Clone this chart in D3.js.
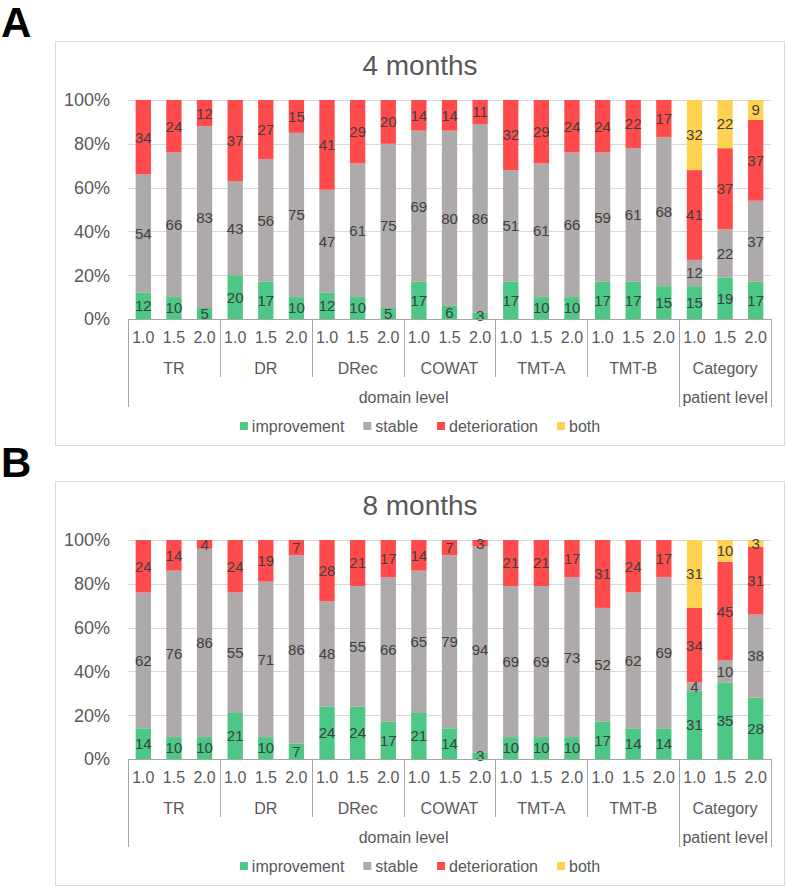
<!DOCTYPE html>
<html>
<head>
<meta charset="utf-8">
<script src="https://cdn.jsdelivr.net/npm/d3@7"></script>
<style>
  html, body { margin: 0; padding: 0; background: #fff; }
  svg { display: block; font-family: "Liberation Sans", Arial, sans-serif; }
</style>
</head>
<body>
<svg id="chart" width="787" height="888"></svg>
<script>
// ---------------- data ----------------
const groups = ["TR", "DR", "DRec", "COWAT", "TMT-A", "TMT-B", "Category"];
const thresholds = ["1.0", "1.5", "2.0"];
const levels = [
  { name: "domain level", from: 0, to: 6 },
  { name: "patient level", from: 6, to: 7 }
];
const seriesNames = ["improvement", "stable", "deterioration", "both"];
const seriesColors = ["#4cc784", "#aeaaaa", "#ff4b4b", "#ffd24f"];
const yTicks = [0, 20, 40, 60, 80, 100];

// 4 months
const improvement4   = [12, 10, 5, 20, 17, 10, 12, 10, 5, 17, 6, 3, 17, 10, 10, 17, 17, 15, 15, 19, 17];
const stable4        = [54, 66, 83, 43, 56, 75, 47, 61, 75, 69, 80, 86, 51, 61, 66, 59, 61, 68, 12, 22, 37];
const deterioration4 = [34, 24, 12, 37, 27, 15, 41, 29, 20, 14, 14, 11, 32, 29, 24, 24, 22, 17, 41, 37, 37];
const both4          = [0, 0, 0, 0, 0, 0, 0, 0, 0, 0, 0, 0, 0, 0, 0, 0, 0, 0, 32, 22, 9];

// 8 months
const improvement8   = [14, 10, 10, 21, 10, 7, 24, 24, 17, 21, 14, 3, 10, 10, 10, 17, 14, 14, 31, 35, 28];
const stable8        = [62, 76, 86, 55, 71, 86, 48, 55, 66, 65, 79, 94, 69, 69, 73, 52, 62, 69, 4, 10, 38];
const deterioration8 = [24, 14, 4, 24, 19, 7, 28, 21, 17, 14, 7, 3, 21, 21, 17, 31, 24, 17, 34, 45, 31];
const both8          = [0, 0, 0, 0, 0, 0, 0, 0, 0, 0, 0, 0, 0, 0, 0, 0, 0, 0, 31, 10, 3];

const panels = [
  { letter: "A", title: "4 months", series: [improvement4, stable4, deterioration4, both4] },
  { letter: "B", title: "8 months", series: [improvement8, stable8, deterioration8, both8] }
];

// ---------------- drawing ----------------
const svg = d3.select("#chart");
const textGray = "#595959";
const labelGray = "#404040";
const lineGray = "#a6a6a6";
const gridGray = "#d9d9d9";

const keys = [];
groups.forEach(g => thresholds.forEach(t => keys.push(g + "|" + t)));

const x = d3.scaleBand().domain(keys).range([128, 771]).paddingInner(0.5).paddingOuter(0.25);
const y = d3.scaleLinear().domain([0, 100]).range([319, 100]);
const step = x.step();
const edge = i => x(keys[i]) - step * 0.25; // left boundary of band i

panels.forEach((p, pi) => {
  const g = svg.append("g").attr("transform", `translate(0,${pi * 440})`);

  // letter
  g.append("text").attr("x", 1).attr("y", 37)
    .attr("font-size", 42).attr("font-weight", "bold").attr("fill", "#000")
    .text(p.letter);

  // frame
  g.append("rect").attr("x", 55.5).attr("y", 41.5).attr("width", 729).attr("height", 404)
    .attr("fill", "#fff").attr("stroke", gridGray).attr("stroke-width", 1);

  // title
  g.append("text").attr("x", 420).attr("y", 75).attr("text-anchor", "middle")
    .attr("font-size", 28).attr("fill", textGray).text(p.title);

  // gridlines
  g.append("g").selectAll("line").data(yTicks.filter(t => t > 0)).join("line")
    .attr("x1", 128).attr("x2", 771)
    .attr("y1", d => Math.round(y(d)) + 0.5).attr("y2", d => Math.round(y(d)) + 0.5)
    .attr("stroke", gridGray).attr("stroke-width", 1);

  // y axis labels
  g.append("g").selectAll("text").data(yTicks).join("text")
    .attr("x", 110).attr("y", d => y(d)).attr("dy", "0.35em")
    .attr("text-anchor", "end").attr("font-size", 18).attr("fill", textGray)
    .text(d => d + "%");

  // stacked data
  const rows = keys.map((k, i) => {
    const r = { key: k };
    seriesNames.forEach((s, si) => r[s] = p.series[si][i]);
    return r;
  });
  const stacked = d3.stack().keys(seriesNames)(rows);

  const layers = g.append("g").selectAll("g").data(stacked).join("g")
    .attr("fill", (d, i) => seriesColors[i]);
  layers.selectAll("rect").data(d => d).join("rect")
    .attr("x", d => x(d.data.key)).attr("width", x.bandwidth())
    .attr("y", d => y(d[1])).attr("height", d => y(d[0]) - y(d[1]));

  // labels
  const lab = g.append("g");
  stacked.forEach(layer => {
    layer.forEach(d => {
      const v = d[1] - d[0];
      if (v <= 0) return;
      lab.append("text")
        .attr("x", x(d.data.key) + x.bandwidth() / 2)
        .attr("y", (y(d[0]) + y(d[1])) / 2).attr("dy", "0.36em")
        .attr("text-anchor", "middle").attr("font-size", 15).attr("fill", labelGray)
        .text(v);
    });
  });

  // category axis
  const ax = g.append("g");
  ax.append("line").attr("x1", 128).attr("x2", 771).attr("y1", 319.5).attr("y2", 319.5)
    .attr("stroke", lineGray);
  // threshold labels
  ax.selectAll("text.t").data(keys).join("text").attr("class", "t")
    .attr("x", d => x(d) + x.bandwidth() / 2).attr("y", 343)
    .attr("text-anchor", "middle").attr("font-size", 16).attr("fill", textGray)
    .text(d => d.split("|")[1]);
  // group separators and labels
  const outerIdx = new Set();
  levels.forEach(l => { outerIdx.add(l.from); outerIdx.add(l.to); });
  for (let gi = 0; gi <= groups.length; gi++) {
    const xx = gi < groups.length ? edge(gi * 3) : edge(keys.length - 1) + step;
    const bottom = outerIdx.has(gi) ? 407 : 377;
    ax.append("line").attr("x1", Math.round(xx) + 0.5).attr("x2", Math.round(xx) + 0.5)
      .attr("y1", 319).attr("y2", bottom).attr("stroke", lineGray);
  }
  groups.forEach((gr, gi) => {
    const x0 = edge(gi * 3), x1 = edge(gi * 3) + step * 3;
    ax.append("text").attr("x", (x0 + x1) / 2).attr("y", 374)
      .attr("text-anchor", "middle").attr("font-size", 16).attr("fill", textGray).text(gr);
  });
  levels.forEach(l => {
    const x0 = edge(l.from * 3), x1 = edge(l.to * 3 - 1) + step;
    ax.append("text").attr("x", (x0 + x1) / 2).attr("y", 403)
      .attr("text-anchor", "middle").attr("font-size", 16).attr("fill", textGray).text(l.name);
  });

  // legend
  const leg = g.append("g");
  let cx = 0;
  seriesNames.forEach((s, si) => {
    const it = leg.append("g").attr("transform", `translate(${cx},0)`);
    it.append("rect").attr("x", 0).attr("y", 422).attr("width", 8).attr("height", 8)
      .attr("fill", seriesColors[si]);
    const t = it.append("text").attr("x", 12).attr("y", 432)
      .attr("font-size", 16).attr("fill", textGray).text(s);
    cx += 12 + t.node().getComputedTextLength() + 19;
  });
  const totalW = cx - 19;
  leg.attr("transform", `translate(${420 - totalW / 2},0)`);
});
</script>
</body>
</html>
